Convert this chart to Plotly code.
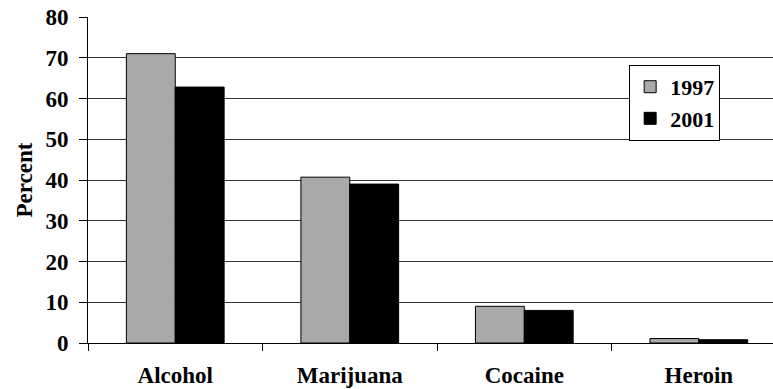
import plotly.graph_objects as go

categories = ["Alcohol", "Marijuana", "Cocaine", "Heroin"]
series_names = ["1997", "2001"]
values_1997 = [71, 40.7, 9, 1.1]
values_2001 = [62.8, 39, 8, 0.8]
y_ticks = [0, 10, 20, 30, 40, 50, 60, 70, 80]

font_family = "Liberation Serif"

fig = go.Figure()
fig.add_trace(go.Bar(x=categories, y=values_1997, name=series_names[0],
                     marker=dict(color="#a9a9a9", line=dict(color="black", width=1))))
fig.add_trace(go.Bar(x=categories, y=values_2001, name=series_names[1],
                     marker=dict(color="black", line=dict(color="black", width=1))))

fig.update_layout(
    width=773, height=389,
    margin=dict(l=88, r=0, t=17, b=46),
    paper_bgcolor="white", plot_bgcolor="white",
    barmode="group", bargap=0.44, bargroupgap=0,
    font=dict(family=font_family, size=23, color="black"),
    showlegend=True,
    legend=dict(x=0.79, y=0.853, xanchor="left", yanchor="top",
                bgcolor="white", bordercolor="black", borderwidth=1,
                font=dict(family=font_family, size=22, color="black", weight="bold"),
                itemwidth=30, tracegroupgap=0),
)
fig.update_xaxes(
    range=[-0.5, 3.425],
    showline=True, linecolor="black", linewidth=1,
    ticks="outside", tickson="boundaries", ticklen=7, tickcolor="black",
    tickfont=dict(family=font_family, size=23, weight="bold"),
    ticklabelstandoff=11,
    showgrid=False,
)
fig.update_yaxes(
    range=[0, 80], tickvals=y_ticks,
    showline=True, linecolor="black", linewidth=1,
    ticks="outside", ticklen=8, tickcolor="black",
    ticklabelstandoff=6,
    showgrid=True, gridcolor="#333333", gridwidth=1,
    tickfont=dict(family=font_family, size=23, weight="bold"),
    title=dict(text="Percent", font=dict(family=font_family, size=23, weight="bold"), standoff=6),
    zeroline=False,
)

fig.write_html("out.html")
